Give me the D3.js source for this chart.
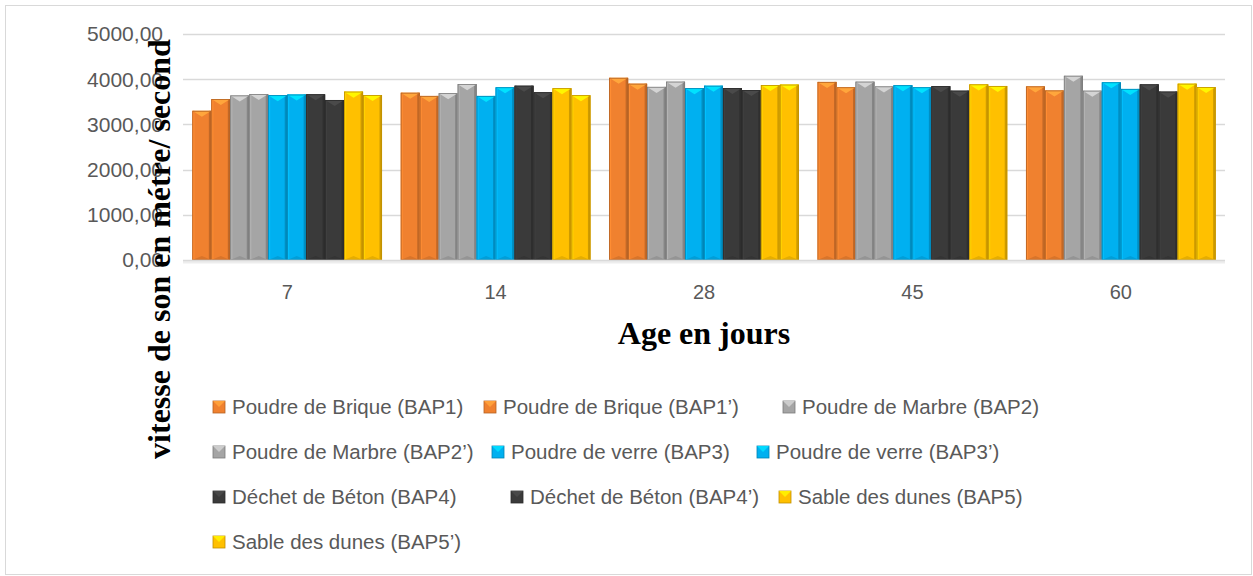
<!DOCTYPE html>
<html lang="fr">
<head>
<meta charset="UTF-8">
<title>Vitesse de son</title>
<script src="https://d3js.org/d3.v7.min.js"></script>
<style>
  body { margin: 0; background: #fff; }
  svg { display: block; }
  .lbl { font-family: "Liberation Sans", Arial, sans-serif; fill: #595959; }
  .ttl { font-family: "Liberation Serif", "Times New Roman", serif; font-weight: bold; fill: #000; }
</style>
</head>
<body>
<svg id="chart"></svg>
<script>
// ages (jours) on the x axis
const ages = ["7", "14", "28", "45", "60"];

const seriesNames = [
  "Poudre de Brique (BAP1)", "Poudre de Brique (BAP1\u2019)",
  "Poudre de Marbre (BAP2)", "Poudre de Marbre (BAP2\u2019)",
  "Poudre de verre (BAP3)", "Poudre de verre (BAP3\u2019)",
  "Déchet de Béton (BAP4)", "Déchet de Béton (BAP4\u2019)",
  "Sable des dunes (BAP5)", "Sable des dunes (BAP5\u2019)"
];
const seriesColors = ["#F0812F", "#F0812F", "#A5A5A5", "#A5A5A5", "#00B0F0",
                      "#00B0F0", "#3A3A3A", "#3A3A3A", "#FFC000", "#FFC000"];

// vitesse de son (m/s), one value per age
const bap1  = [3300, 3700, 4030, 3940, 3840];
const bap1p = [3560, 3630, 3900, 3820, 3750];
const bap2  = [3640, 3690, 3830, 3945, 4075];
const bap2p = [3670, 3890, 3945, 3840, 3745];
const bap3  = [3645, 3630, 3800, 3865, 3930];
const bap3p = [3660, 3820, 3855, 3820, 3785];
const bap4  = [3665, 3855, 3805, 3845, 3885];
const bap4p = [3540, 3710, 3760, 3745, 3725];
const bap5  = [3725, 3800, 3870, 3885, 3900];
const bap5p = [3650, 3645, 3880, 3850, 3825];
const seriesValues = [bap1, bap1p, bap2, bap2p, bap3, bap3p, bap4, bap4p, bap5, bap5p];

const yTicks = [0, 1000, 2000, 3000, 4000, 5000];

const W = 1253, H = 576;
const svg = d3.select("#chart").attr("width", W).attr("height", H);

// outer frame
svg.append("rect").attr("x", 5.5).attr("y", 5.5).attr("width", W - 7).attr("height", H - 7)
  .attr("fill", "#fff").attr("stroke", "#D9D9D9").attr("stroke-width", 1);

const plotL = 183, plotR = 1225, plotT = 34, plotB = 260;

const x0 = d3.scaleBand().domain(ages).range([plotL, plotR])
  .paddingInner(0.09).paddingOuter(0.045);
const x1 = d3.scaleBand().domain(d3.range(seriesNames.length)).range([0, x0.bandwidth()]);
const y = d3.scaleLinear().domain([0, 5000]).range([plotB, plotT]);

// gridlines
svg.append("g").selectAll("line").data(yTicks.slice(1)).join("line")
  .attr("x1", plotL).attr("x2", plotR)
  .attr("y1", d => Math.round(y(d)) + 0.5).attr("y2", d => Math.round(y(d)) + 0.5)
  .attr("stroke", "#D9D9D9").attr("stroke-width", 1.5);

// y tick labels
const fmt = d => d3.format(".2f")(d).replace(".", ",");
svg.append("g").selectAll("text").data(yTicks).join("text")
  .attr("class", "lbl")
  .attr("x", 163).attr("y", d => y(d))
  .attr("dy", "0.35em").attr("text-anchor", "end")
  .style("font-size", "21px").text(fmt);

// bevelled bar, roughly like the office 3-D preset
function bar(g, bx, by, bw, bh, color) {
  const c = d3.color(color);
  const t = Math.min(6, bh);
  g.append("rect").attr("x", bx).attr("y", by).attr("width", bw).attr("height", bh)
    .attr("fill", color);
  g.append("rect").attr("x", bx).attr("y", by).attr("width", 2).attr("height", bh)
    .attr("fill", c.brighter(0.25));
  g.append("rect").attr("x", bx + bw - 2.5).attr("y", by).attr("width", 2.5).attr("height", bh)
    .attr("fill", c.darker(0.6));
  g.append("polygon")
    .attr("points", `${bx},${by} ${bx + bw},${by} ${bx + bw / 2},${by + t}`)
    .attr("fill", c.brighter(0.7));
  g.append("polygon")
    .attr("points", `${bx},${by + bh} ${bx + bw},${by + bh} ${bx + bw / 2},${by + bh - 4}`)
    .attr("fill", c.darker(0.3));
  g.append("rect").attr("x", bx + 0.4).attr("y", by + 0.4).attr("width", bw - 0.8).attr("height", bh - 0.4)
    .attr("fill", "none").attr("stroke", c.darker(0.8)).attr("stroke-width", 0.8);
}

const bars = svg.append("g");
ages.forEach((a, ai) => {
  seriesValues.forEach((vals, si) => {
    const v = vals[ai];
    bar(bars, x0(a) + x1(si), y(v), x1.bandwidth(), y(0) - y(v), seriesColors[si]);
  });
});

// x axis line with soft shadow
svg.append("line").attr("x1", plotL).attr("x2", plotR).attr("y1", plotB + 2).attr("y2", plotB + 2)
  .attr("stroke", "#EDEDED").attr("stroke-width", 3);
svg.append("line").attr("x1", plotL).attr("x2", plotR).attr("y1", plotB + 0.5).attr("y2", plotB + 0.5)
  .attr("stroke", "#D9D9D9").attr("stroke-width", 1.5);

// x tick labels
svg.append("g").selectAll("text").data(ages).join("text")
  .attr("class", "lbl")
  .attr("x", d => x0(d) + x0.bandwidth() / 2).attr("y", 292)
  .attr("dy", "0.35em").attr("text-anchor", "middle")
  .style("font-size", "20px").text(d => d);

// axis titles
svg.append("text").attr("class", "ttl")
  .attr("x", 704).attr("y", 344).attr("text-anchor", "middle")
  .style("font-size", "32px").text("Age en jours");
svg.append("text").attr("class", "ttl")
  .attr("transform", "translate(170,249) rotate(-90)").attr("text-anchor", "middle")
  .style("font-size", "32px").text("vitesse de son en métre/ second");

// legend (positions follow the original flow)
const legendPos = [[219, 407], [490, 407], [789, 407],
                   [219, 452], [498, 452], [763, 452],
                   [219, 497], [517, 497], [785, 497],
                   [219, 542]];
const lg = svg.append("g");
seriesNames.forEach((name, i) => {
  const [lx, ly] = legendPos[i];
  const c = d3.color(seriesColors[i]);
  lg.append("rect").attr("x", lx - 6).attr("y", ly - 6).attr("width", 12).attr("height", 12)
    .attr("fill", seriesColors[i]).attr("stroke", c.darker(0.8)).attr("stroke-width", 0.8);
  lg.append("polygon")
    .attr("points", `${lx - 6},${ly - 6} ${lx + 6},${ly - 6} ${lx},${ly}`)
    .attr("fill", c.brighter(0.6));
  lg.append("text").attr("class", "lbl")
    .attr("x", lx + 13).attr("y", ly).attr("dy", "0.35em")
    .style("font-size", "20.5px").text(name);
});
</script>
</body>
</html>
